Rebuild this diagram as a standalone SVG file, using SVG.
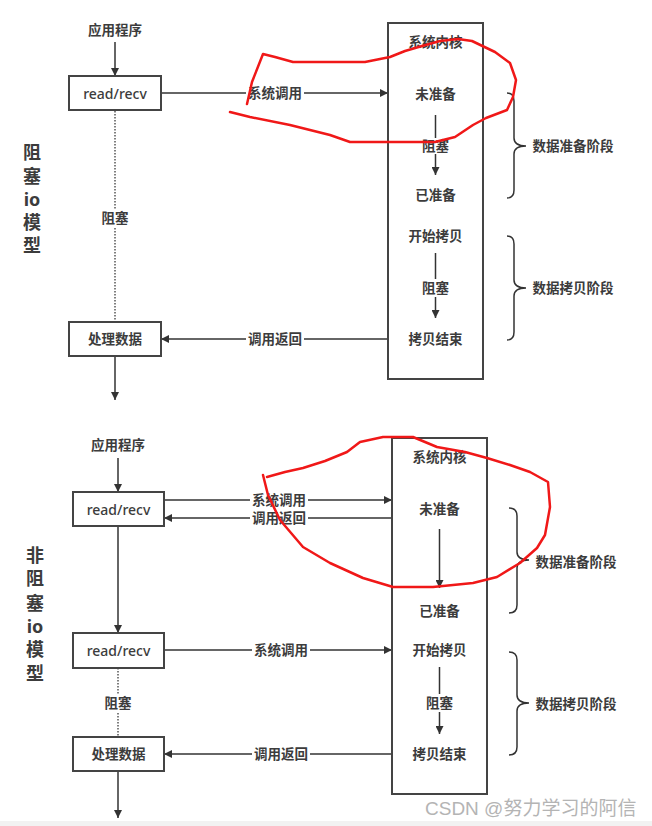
<svg xmlns="http://www.w3.org/2000/svg" width="652" height="826" viewBox="0 0 652 826">
<defs>
<marker id="ah" viewBox="0 0 10 10" refX="10" refY="5" markerWidth="8" markerHeight="8" markerUnits="userSpaceOnUse" orient="auto">
<path d="M0,0 L10,5 L0,10 z" fill="#333"/>
</marker>
<style>
text{font-family:"Noto Sans","Noto Sans CJK SC",sans-serif;fill:#3c3c3c;font-weight:700;dominant-baseline:central;text-anchor:middle}
.t{font-size:13.5px}
.en{font-size:14px;font-weight:500}
.big{font-size:18px}
.box{fill:#fff;stroke:#444;stroke-width:2}
.ln{stroke:#333;stroke-width:1.5;fill:none}
.ar{stroke:#333;stroke-width:1.5;fill:none;marker-end:url(#ah)}
.dot{stroke:#555;stroke-width:1.5;stroke-dasharray:1.5 1.5;fill:none}
.bg{fill:#fff}
.brace{stroke:#333;stroke-width:1.5;fill:none}
.red{stroke:#f01818;stroke-width:2.5;fill:none;stroke-linejoin:round;stroke-linecap:round}
.wm{font-family:"Liberation Sans","Noto Sans CJK SC",sans-serif;font-size:19px;fill:#b4b4b4;font-weight:normal;text-anchor:start}
</style>
</defs>
<rect width="652" height="826" fill="#fff"/>
<rect x="0" y="821" width="652" height="5" fill="#f2f2f2"/>

<!-- connectors -->
<g id="connectors">
<!-- top -->
<line class="ar" x1="115" y1="42" x2="115" y2="76"/>
<line class="ar" x1="161" y1="93" x2="388" y2="93"/>
<line class="dot" x1="115" y1="111" x2="115" y2="322"/>
<line class="ar" x1="388" y1="339" x2="161" y2="339"/>
<line class="ar" x1="115" y1="356" x2="115" y2="400"/>
<line class="ar" x1="435.5" y1="115" x2="435.5" y2="175"/>
<line class="ar" x1="435.5" y1="253" x2="435.5" y2="318"/>
<!-- bottom -->
<line class="ar" x1="118" y1="458" x2="118" y2="492"/>
<line class="ar" x1="164" y1="500" x2="392" y2="500"/>
<line class="ar" x1="392" y1="518" x2="164" y2="518"/>
<line class="ar" x1="118" y1="526" x2="118" y2="633"/>
<line class="ar" x1="164" y1="650" x2="392" y2="650"/>
<line class="dot" x1="118" y1="668" x2="118" y2="737"/>
<line class="ar" x1="392" y1="754" x2="164" y2="754"/>
<line class="ar" x1="118" y1="771" x2="118" y2="818"/>
<line class="ar" x1="439.5" y1="529" x2="439.5" y2="588"/>
<line class="ar" x1="439.5" y1="667" x2="439.5" y2="734"/>
<!-- connector labels -->
<rect class="bg" x="246" y="85" width="58" height="16"/><text class="t" x="275" y="93">系统调用</text>
<rect class="bg" x="104" y="209" width="24" height="18"/><text class="t" x="115" y="218">阻塞</text>
<rect class="bg" x="246" y="331" width="58" height="16"/><text class="t" x="275" y="339">调用返回</text>
<rect class="bg" x="422" y="138" width="28" height="16"/><text class="t" x="435.5" y="146">阻塞</text>
<rect class="bg" x="422" y="279" width="28" height="18"/><text class="t" x="435.5" y="288">阻塞</text>
<rect class="bg" x="250" y="492" width="58" height="16"/><text class="t" x="279" y="500">系统调用</text>
<rect class="bg" x="250" y="511" width="58" height="15"/><text class="t" x="279" y="518">调用返回</text>
<rect class="bg" x="252" y="642" width="58" height="16"/><text class="t" x="281" y="650">系统调用</text>
<rect class="bg" x="106" y="694" width="25" height="18"/><text class="t" x="118" y="703">阻塞</text>
<rect class="bg" x="252" y="746" width="58" height="16"/><text class="t" x="281" y="754">调用返回</text>
<rect class="bg" x="426" y="694" width="28" height="18"/><text class="t" x="439.5" y="703">阻塞</text>
</g>

<!-- top section nodes -->
<g id="app1"><text class="t" x="115" y="30">应用程序</text></g>
<g id="read1"><rect class="box" x="69" y="76" width="92" height="34"/><text class="en" x="115" y="93">read/recv</text></g>
<g id="proc1"><rect class="box" x="69" y="322" width="92" height="34"/><text class="t" x="115" y="339">处理数据</text></g>
<g id="kernel1">
<rect fill="none" stroke="#444" stroke-width="2" x="388" y="23" width="95" height="356"/>
<text class="t" x="435.5" y="42">系统内核</text>
<text class="t" x="435.5" y="94">未准备</text>
<text class="t" x="435.5" y="195">已准备</text>
<text class="t" x="435.5" y="236">开始拷贝</text>
<text class="t" x="435.5" y="339">拷贝结束</text>
</g>
<g id="brace1a"><path class="brace" d="M507,93 Q514,93 514,101 L514,138 Q514,146 526,146 Q514,146 514,154 L514,190 Q514,198 507,198"/><text class="t" x="573" y="146">数据准备阶段</text></g>
<g id="brace1b"><path class="brace" d="M507,236 Q514,236 514,244 L514,280 Q514,288 526,288 Q514,288 514,296 L514,332 Q514,340 507,340"/><text class="t" x="573" y="288">数据拷贝阶段</text></g>
<g id="title1">
<text class="big" x="32" y="152">阻</text>
<text class="big" x="32" y="176">塞</text>
<text class="big" x="32" y="199" font-weight="500">io</text>
<text class="big" x="32" y="222">模</text>
<text class="big" x="32" y="245">型</text>
</g>

<!-- bottom section nodes -->
<g id="app2"><text class="t" x="118" y="445">应用程序</text></g>
<g id="read2"><rect class="box" x="73" y="492" width="91" height="34"/><text class="en" x="118.5" y="509">read/recv</text></g>
<g id="read3"><rect class="box" x="73" y="633" width="91" height="35"/><text class="en" x="118.5" y="650">read/recv</text></g>
<g id="proc2"><rect class="box" x="73" y="737" width="91" height="34"/><text class="t" x="118.5" y="754">处理数据</text></g>
<g id="kernel2">
<rect fill="none" stroke="#444" stroke-width="2" x="392" y="438" width="95" height="356"/>
<text class="t" x="439.5" y="457">系统内核</text>
<text class="t" x="439.5" y="509">未准备</text>
<text class="t" x="439.5" y="611">已准备</text>
<text class="t" x="439.5" y="650">开始拷贝</text>
<text class="t" x="439.5" y="754">拷贝结束</text>
</g>
<g id="brace2a"><path class="brace" d="M509,508 Q517,508 517,516 L517,552 Q517,560 529,560 Q517,560 517,568 L517,605 Q517,613 509,613"/><text class="t" x="576" y="562">数据准备阶段</text></g>
<g id="brace2b"><path class="brace" d="M509,652 Q517,652 517,660 L517,695 Q517,703 529,703 Q517,703 517,711 L517,747 Q517,755 509,755"/><text class="t" x="576" y="704">数据拷贝阶段</text></g>
<g id="title2">
<text class="big" x="35" y="555">非</text>
<text class="big" x="35" y="578">阻</text>
<text class="big" x="35" y="603">塞</text>
<text class="big" x="35" y="626" font-weight="500">io</text>
<text class="big" x="35" y="649">模</text>
<text class="big" x="35" y="673">型</text>
</g>

<!-- red annotations -->
<path class="red" d="M247,104 L252,82 L263,54 L275,57 L293,62 L330,62 L365,62 L390,57 L405,51 L422,46 L440,41 L458,39 L472,41 L495,52 L510,63 L516,80 L513,97 L507,110 L486,118 L473,125 L455,137 L435,142 L390,142 L350,142 L330,135 L290,125 L250,117 L230,112"/>
<path class="red" d="M267,477 L285,472 L303,468 L325,461 L347,452 L360,442 L383,437 L413,437 L437,447 L465,452 L487,458 L510,465 L530,472 L548,482 L550,507 L545,535 L537,548 L520,563 L497,577 L473,583 L433,587 L393,587 L363,578 L330,563 L303,547 L280,520 L268,495 L263,475"/>

<text class="wm" x="425" y="808">CSDN @努力学习的阿信</text>
</svg>
